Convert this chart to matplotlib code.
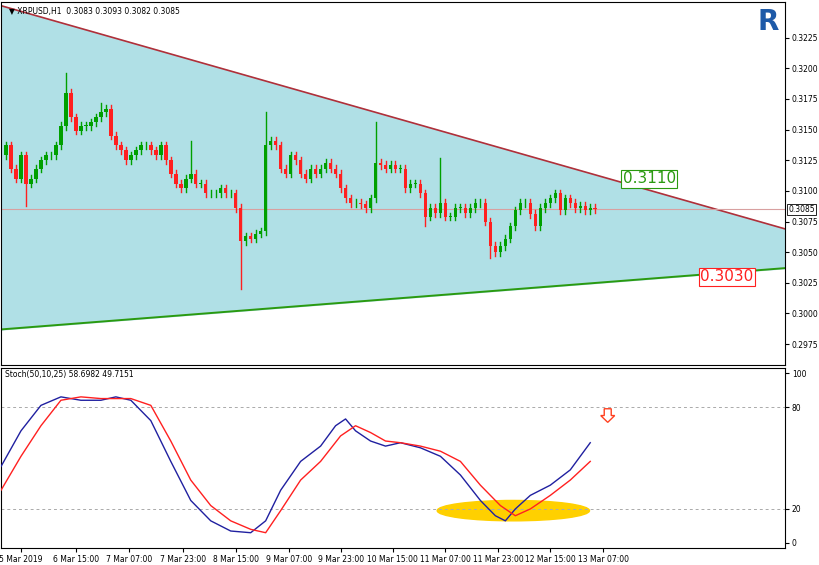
import matplotlib
matplotlib.use("Agg")
import matplotlib.pyplot as plt
import numpy as np
from matplotlib.patches import Ellipse, FancyArrow

closes = [0.3137,0.3118,0.3110,0.3129,0.3106,0.3110,0.3118,0.3125,0.3129,0.3129,0.3137,0.3153,0.3180,0.3160,0.3149,0.3153,0.3153,0.3156,0.3160,0.3164,
0.3167,0.3145,0.3137,0.3133,0.3125,0.3129,0.3133,0.3137,0.3137,0.3133,0.3129,0.3137,0.3125,0.3114,0.3106,0.3102,0.3110,0.3114,0.3106,0.3106,
0.3098,0.3098,0.3098,0.3102,0.3098,0.3098,0.3086,0.3059,0.3063,0.3061,0.3065,0.3067,0.3137,0.3141,0.3137,0.3118,0.3114,0.3129,0.3125,0.3114,
0.3110,0.3118,0.3114,0.3118,0.3123,0.3118,0.3114,0.3102,0.3094,0.3090,0.3090,0.3089,0.3086,0.3094,0.3123,0.3121,0.3118,0.3121,0.3118,0.3118,
0.3102,0.3106,0.3106,0.3098,0.3079,0.3086,0.3082,0.3090,0.3079,0.3079,0.3086,0.3086,0.3082,0.3086,0.3090,0.3090,0.3075,0.3055,0.3050,0.3055,
0.3061,0.3071,0.3084,0.3090,0.3090,0.3081,0.3071,0.3086,0.3090,0.3094,0.3098,0.3084,0.3094,0.3090,0.3086,0.3088,0.3084,0.3086,0.3085]
first_open = 0.3129
wick_high = {12: 0.3196, 37: 0.3141, 52: 0.3164, 74: 0.3156, 87: 0.3127, 19: 0.3172}
wick_low = {4: 0.3088, 47: 0.3020, 97: 0.3045, 84: 0.3071}

tick_pos = [3,14,24.6,35.4,46,56.6,67,77.4,88,98.6,109,119.6]
tick_labels = ["5 Mar 2019","6 Mar 15:00","7 Mar 07:00","7 Mar 23:00","8 Mar 15:00","9 Mar 07:00",
               "9 Mar 23:00","10 Mar 15:00","11 Mar 07:00","11 Mar 23:00","12 Mar 15:00","13 Mar 07:00"]
price_ticks = [0.2975,0.3000,0.3025,0.3050,0.3075,0.3100,0.3125,0.3150,0.3175,0.3200,0.3225]

stoch_idx = [-1,3,7,11,15,19,22,25,29,33,37,41,45,49,52,55,59,63,66,68,70,73,76,79,83,87,91,95,98,100,102,105,109,113,117]
stoch_k = [45,66,81,86,84,84,86,84,72,48,25,13,7,6,13,31,48,57,69,73,66,60,57,59,56,51,40,25,16,13,20,28,34,43,59]
stoch_d = [31,51,69,84,86,85,85,85,81,60,37,22,13,8,6,19,37,48,63,69,65,60,59,57,54,48,34,22,16,20,28,37,48]
stoch_d_idx = [-1,3,7,11,15,19,22,25,29,33,37,41,45,49,52,55,59,63,67,70,73,76,79,83,87,91,95,99,102,105,109,113,117]

upper_line = (0.3251, 0.3069)
lower_line = (0.2987, 0.3037)

FS = 5.5
W, H = 820, 565
fig = plt.figure(figsize=(W/100, H/100), dpi=100)
ax = fig.add_axes([1/W, 1-365/H, 784/W, 363/H])
ax2 = fig.add_axes([1/W, 1-548/H, 784/W, 180/H])

xmin, xmax = -1, 156
ymin, ymax = 0.2958, 0.3254
ax.set_xlim(xmin, xmax); ax.set_ylim(ymin, ymax)
xs = np.array([xmin, xmax])
ax.fill_between(xs, lower_line, upper_line, color="#b0e0e6", zorder=0)
ax.plot(xs, upper_line, color="#b0303a", lw=1.2, zorder=1)
ax.plot(xs, lower_line, color="#2a9a10", lw=1.4, zorder=1)
ax.axhline(0.3085, color="#d8a0a0", lw=0.8, zorder=1)

opens = [first_open] + closes[:-1]
for i, (o, c) in enumerate(zip(opens, closes)):
    hi = wick_high.get(i, max(o, c) + 0.0003)
    lo = wick_low.get(i, min(o, c) - 0.0003)
    col = "#00a000" if c >= o else "#ff2020"
    ax.plot([i, i], [lo, hi], color=col, lw=1, zorder=2)
    ax.bar(i, max(abs(c - o), 0.00005), bottom=min(o, c), width=0.7, color=col, zorder=3)

ax.yaxis.tick_right()
ax.set_yticks(price_ticks)
ax.set_yticklabels([f"{p:.4f}" for p in price_ticks], fontsize=FS)
ax.set_xticks([])
ax.tick_params(axis="y", length=3, pad=2)
ax.text(0.01, 0.985, "▼ XRPUSD,H1  0.3083 0.3093 0.3082 0.3085", transform=ax.transAxes,
        fontsize=FS, va="top", ha="left")
ax.text(123.5, 0.3110, "0.3110", fontsize=11, color="#2a9a10", va="center", ha="left",
        bbox=dict(boxstyle="square,pad=0.1", fc="white", ec="#2a9a10", lw=0.8))
ax.text(139, 0.3030, "0.3030", fontsize=11, color="#ff2020", va="center", ha="left",
        bbox=dict(boxstyle="square,pad=0.1", fc="white", ec="#ff2020", lw=0.8))
ax.text(1.004, (0.3085 - ymin)/(ymax - ymin), "0.3085", transform=ax.transAxes, fontsize=FS,
        va="center", ha="left", clip_on=False,
        bbox=dict(boxstyle="square,pad=0.15", fc="white", ec="black", lw=0.6))
fig.text(768/W, 1-22/H, "R", fontsize=20, fontweight="bold", color="#1e5aa8", ha="center", va="center")

ax2.set_xlim(xmin, xmax); ax2.set_ylim(-3, 103)
for lv in (20, 80):
    ax2.axhline(lv, color="#aaaaaa", lw=0.7, ls=(0, (3, 3)))
ax2.add_patch(Ellipse((101.6, 19), 30.5, 12, color="#ffd000", zorder=1))
ax2.plot(stoch_idx, stoch_k, color="#2020a0", lw=1, zorder=3)
ax2.plot(stoch_d_idx, stoch_d, color="#ff2020", lw=1, zorder=3)
ax2.add_patch(FancyArrow(120.5, 79, 0, -8, width=1.4, head_width=2.8, head_length=4,
                         length_includes_head=True, fc="white", ec="#ff4020", lw=1))
ax2.yaxis.tick_right()
ax2.set_yticks([0, 20, 80, 100])
ax2.tick_params(axis="y", labelsize=FS, length=3, pad=2)
ax2.set_xticks(tick_pos)
ax2.set_xticklabels(tick_labels, fontsize=FS)
ax2.tick_params(axis="x", length=3, pad=2)
ax2.text(0.005, 0.99, "Stoch(50,10,25) 58.6982 49.7151", transform=ax2.transAxes,
         fontsize=FS, va="top", ha="left")

fig.savefig("out.png", dpi=100)
